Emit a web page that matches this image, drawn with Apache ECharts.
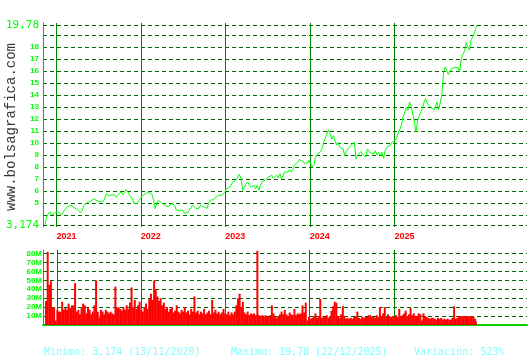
<!DOCTYPE html>
<html><head><meta charset="utf-8">
<script src="https://cdn.jsdelivr.net/npm/echarts@6/dist/echarts.min.js"></script>
<style>html,body{margin:0;padding:0;background:#fff}#c{width:530px;height:360px}</style>
</head><body><div id="c"></div>
<script>
// ---- weekly dates (Fridays) ----
const d2020 = ['2020-11-13','2020-11-20','2020-11-27','2020-12-04','2020-12-11','2020-12-18','2020-12-25'];
const d2021 = ['2021-01-01','2021-01-08','2021-01-15','2021-01-22','2021-01-29','2021-02-05','2021-02-12','2021-02-19','2021-02-26','2021-03-05','2021-03-12','2021-03-19','2021-03-26','2021-04-02','2021-04-09','2021-04-16','2021-04-23','2021-04-30','2021-05-07','2021-05-14','2021-05-21','2021-05-28','2021-06-04','2021-06-11','2021-06-18','2021-06-25','2021-07-02','2021-07-09','2021-07-16','2021-07-23','2021-07-30','2021-08-06','2021-08-13','2021-08-20','2021-08-27','2021-09-03','2021-09-10','2021-09-17','2021-09-24','2021-10-01','2021-10-08','2021-10-15','2021-10-22','2021-10-29','2021-11-05','2021-11-12','2021-11-19','2021-11-26','2021-12-03','2021-12-10','2021-12-17','2021-12-24','2021-12-31'];
const d2022 = ['2022-01-07','2022-01-14','2022-01-21','2022-01-28','2022-02-04','2022-02-11','2022-02-18','2022-02-25','2022-03-04','2022-03-11','2022-03-18','2022-03-25','2022-04-01','2022-04-08','2022-04-15','2022-04-22','2022-04-29','2022-05-06','2022-05-13','2022-05-20','2022-05-27','2022-06-03','2022-06-10','2022-06-17','2022-06-24','2022-07-01','2022-07-08','2022-07-15','2022-07-22','2022-07-29','2022-08-05','2022-08-12','2022-08-19','2022-08-26','2022-09-02','2022-09-09','2022-09-16','2022-09-23','2022-09-30','2022-10-07','2022-10-14','2022-10-21','2022-10-28','2022-11-04','2022-11-11','2022-11-18','2022-11-25','2022-12-02','2022-12-09','2022-12-16','2022-12-23','2022-12-30'];
const d2023 = ['2023-01-06','2023-01-13','2023-01-20','2023-01-27','2023-02-03','2023-02-10','2023-02-17','2023-02-24','2023-03-03','2023-03-10','2023-03-17','2023-03-24','2023-03-31','2023-04-07','2023-04-14','2023-04-21','2023-04-28','2023-05-05','2023-05-12','2023-05-19','2023-05-26','2023-06-02','2023-06-09','2023-06-16','2023-06-23','2023-06-30','2023-07-07','2023-07-14','2023-07-21','2023-07-28','2023-08-04','2023-08-11','2023-08-18','2023-08-25','2023-09-01','2023-09-08','2023-09-15','2023-09-22','2023-09-29','2023-10-06','2023-10-13','2023-10-20','2023-10-27','2023-11-03','2023-11-10','2023-11-17','2023-11-24','2023-12-01','2023-12-08','2023-12-15','2023-12-22','2023-12-29'];
const d2024 = ['2024-01-05','2024-01-12','2024-01-19','2024-01-26','2024-02-02','2024-02-09','2024-02-16','2024-02-23','2024-03-01','2024-03-08','2024-03-15','2024-03-22','2024-03-29','2024-04-05','2024-04-12','2024-04-19','2024-04-26','2024-05-03','2024-05-10','2024-05-17','2024-05-24','2024-05-31','2024-06-07','2024-06-14','2024-06-21','2024-06-28','2024-07-05','2024-07-12','2024-07-19','2024-07-26','2024-08-02','2024-08-09','2024-08-16','2024-08-23','2024-08-30','2024-09-06','2024-09-13','2024-09-20','2024-09-27','2024-10-04','2024-10-11','2024-10-18','2024-10-25','2024-11-01','2024-11-08','2024-11-15','2024-11-22','2024-11-29','2024-12-06','2024-12-13','2024-12-20','2024-12-27'];
const d2025 = ['2025-01-03','2025-01-10','2025-01-17','2025-01-24','2025-01-31','2025-02-07','2025-02-14','2025-02-21','2025-02-28','2025-03-07','2025-03-14','2025-03-21','2025-03-28','2025-04-04','2025-04-11','2025-04-18','2025-04-25','2025-05-02','2025-05-09','2025-05-16','2025-05-23','2025-05-30','2025-06-06','2025-06-13','2025-06-20','2025-06-27','2025-07-04','2025-07-11','2025-07-18','2025-07-25','2025-08-01','2025-08-08','2025-08-15','2025-08-22','2025-08-29','2025-09-05','2025-09-12','2025-09-19','2025-09-26','2025-10-03','2025-10-10','2025-10-17','2025-10-24','2025-10-31','2025-11-07','2025-11-14','2025-11-21','2025-11-28','2025-12-05','2025-12-12','2025-12-19','2025-12-22'];

// ---- closing prices (EUR) ----
const c2020 = [3.174,3.88,4.09,4.28,4.00,4.09,4.20];
const c2021 = [4.14,4.28,4.14,4.00,3.88,4.40,4.54,4.72,4.62,4.80,4.80,4.60,4.46,4.46,4.35,4.20,4.40,4.80,4.94,5.04,5.10,5.15,5.25,5.33,5.25,5.20,5.25,5.07,4.94,5.15,5.47,5.78,5.60,5.47,5.68,5.52,5.68,5.47,5.68,5.78,5.94,5.68,5.86,6.13,5.94,5.68,5.50,5.33,4.94,5.07,4.94,5.20,5.41];
const c2022 = [5.60,5.68,5.77,5.85,5.91,5.99,5.72,5.23,4.55,4.96,5.23,5.36,5.00,5.09,4.82,4.96,4.68,4.82,4.96,5.01,4.82,4.41,4.28,4.36,4.20,4.41,4.14,4.09,4.20,4.40,4.55,4.82,4.68,4.55,4.41,4.55,4.82,4.96,4.68,4.82,4.55,4.96,5.23,5.18,5.28,5.45,5.50,5.64,5.50,5.64,5.77,5.91];
const c2023 = [6.20,6.35,6.30,6.33,6.75,6.83,6.94,7.17,7.39,7.03,6.06,6.30,6.55,6.75,6.60,6.35,6.42,6.47,6.19,6.47,6.06,6.47,6.75,6.89,6.94,7.03,7.17,7.03,7.31,7.03,7.17,7.31,7.11,7.44,7.03,7.31,7.58,7.72,7.58,7.78,7.58,7.78,8.14,8.28,8.42,8.61,8.69,8.50,8.33,8.28,8.33,8.56];
const c2024 = [8.28,8.00,8.20,8.80,9.04,9.15,9.28,9.50,10.06,10.39,10.75,11.11,10.75,10.33,10.61,10.19,9.83,10.06,9.64,9.78,9.50,8.94,9.28,9.50,9.64,9.83,9.92,10.06,8.67,9.00,9.08,9.28,9.08,9.22,8.81,9.50,9.56,9.17,9.28,9.08,9.36,9.00,9.22,8.94,9.22,8.72,9.36,9.64,9.50,9.78,10.06,10.10];
const c2025 = [10.20,10.40,10.80,10.90,11.46,12.15,12.30,12.95,12.70,13.40,13.12,13.10,11.80,10.90,11.80,12.25,12.25,12.90,13.40,13.70,13.30,13.15,13.00,13.00,12.75,13.05,13.40,12.75,12.90,14.00,15.80,16.35,16.05,15.70,15.70,16.20,16.20,16.29,16.35,16.30,15.90,17.00,17.40,17.65,18.36,18.30,17.75,18.60,18.80,19.15,19.55,19.78];

// ---- volume (millions of shares) ----
const v2020 = [27,82,45,49,19,20,5];
const v2021 = [17,15,15,26,17,19,17,24,19,22,22,47,15,17,12,19,24,22,13,20,17,12,15,22,50,15,8,17,15,12,17,15,13,15,13,12,43,19,20,18,16,20,17,22,18,25,42,20,28,18,22,26,17];
const v2022 = [15,20,24,18,30,35,28,50,40,32,27,30,22,25,18,20,15,18,20,14,16,22,15,13,17,15,20,14,16,12,18,15,32,14,16,12,15,13,18,12,14,16,12,28,14,17,13,15,12,14,18,13];
const v2023 = [12,15,11,14,12,15,22,30,35,20,26,14,12,15,11,13,12,13,11,83,11,10,11,9,11,10,9,11,22,13,10,8,10,12,15,12,17,12,10,14,12,11,18,11,13,12,13,22,14,25,5,9];
const v2024 = [7,8,10,13,8,10,29,8,10,9,11,8,10,16,21,26,25,10,8,12,21,10,7,8,7,8,7,9,10,15,8,7,9,8,9,9,11,11,9,9,8,11,9,20,9,13,20,9,12,10,9,10];
const v2025 = [9,11,9,18,10,11,13,16,9,12,19,11,13,9,10,13,12,5,13,10,9,8,7,8,8,7,6,8,7,8,6,7,6,7,6,6,8,21,7,8,10,10,10,10,9,10,10,9,10,9,7,4];

// ---- axes / labels ----
const yearStarts = ['2021-01-01','2022-01-01','2023-01-01','2024-01-01','2025-01-01'];
const yearLabels = ['2021','2022','2023','2024','2025'];
const priceMin = 3.174, priceMax = 19.78;
const priceMinLabel = '3,174', priceMaxLabel = '19,78';
const footer = ['Minimo: 3,174 (13/11/2020)', 'Maximo: 19,78 (22/12/2025)', 'Variación: 523%'];
const watermark = 'www.bolsagrafica.com';

const dates = [].concat(d2020, d2021, d2022, d2023, d2024, d2025);
const closes = [].concat(c2020, c2021, c2022, c2023, c2024, c2025);
const volumes = [].concat(v2020, v2021, v2022, v2023, v2024, v2025);
const priceData = dates.map((d, i) => [d, closes[i]]);
const volData = dates.map((d, i) => [d, volumes[i]]);

const X_MIN = '2020-11-04', X_MAX = '2026-07-28';
const GRID_DASH = { color: '#006400', type: [4, 3], width: 1 };
const YEAR_LINE = { color: '#008400', type: 'solid', width: 1 };

const chart = echarts.init(document.getElementById('c'), null, { renderer: 'canvas' });
chart.setOption({
  animation: false,
  backgroundColor: '#ffffff',
  grid: [
    { left: 43, right: 3, top: 23, height: 204 },
    { left: 43, right: 3, top: 250, height: 75 }
  ],
  xAxis: [
    { type: 'time', gridIndex: 0, min: X_MIN, max: X_MAX, show: false },
    { type: 'time', gridIndex: 1, min: X_MIN, max: X_MAX,
      axisLine: { show: true, lineStyle: { color: '#00d000', width: 2 } },
      axisTick: { show: false }, axisLabel: { show: false }, splitLine: { show: false } }
  ],
  yAxis: [
    { type: 'value', gridIndex: 0, min: 3, max: 20, interval: 1,
      axisLine: { show: true, lineStyle: { color: '#00c000', width: 1 } },
      axisTick: { show: false },
      axisLabel: { margin: 4, color: '#00ff00', fontSize: 8, fontWeight: 'bold', fontFamily: 'Liberation Sans',
        formatter: v => (v >= 5 && v <= 18) ? String(v) : '' },
      splitLine: { show: true, showMinLine: false, showMaxLine: false, lineStyle: GRID_DASH } },
    { type: 'value', gridIndex: 1, min: 0, max: 84, interval: 10,
      axisLine: { show: true, lineStyle: { color: '#00c000', width: 1 } },
      axisTick: { show: false },
      axisLabel: { margin: 1, color: '#00ff00', fontSize: 8, fontWeight: 'bold', fontFamily: 'Liberation Sans',
        formatter: v => (v > 0 && v <= 80) ? v + 'M' : '' },
      splitLine: { show: true, showMinLine: false, showMaxLine: false, lineStyle: GRID_DASH } }
  ],
  series: [
    { type: 'line', xAxisIndex: 0, yAxisIndex: 0, data: priceData, showSymbol: false, symbol: 'none',
      lineStyle: { color: '#00ff00', width: 1 }, z: 3,
      markLine: {
        silent: true, symbol: ['none', 'none'], z: 1, animation: false,
        data: yearStarts.map((d, i) => ({
          xAxis: d, lineStyle: YEAR_LINE,
          label: { show: true, position: 'start', formatter: yearLabels[i], color: '#ff0000', fontSize: 9,
            fontWeight: 'bold', fontFamily: 'Liberation Sans', padding: [0, 0, 0, 20], distance: 5 }
        })).concat([
          { yAxis: priceMax, lineStyle: GRID_DASH,
            label: { show: true, position: 'start', formatter: priceMaxLabel, color: '#00ff00', fontSize: 11,
              fontFamily: 'DejaVu Sans Mono', distance: 4 } },
          { yAxis: priceMin, lineStyle: GRID_DASH,
            label: { show: true, position: 'start', formatter: priceMinLabel, color: '#00ff00', fontSize: 11,
              fontFamily: 'DejaVu Sans Mono', distance: 4 } }
        ])
      }
    },
    { type: 'bar', xAxisIndex: 1, yAxisIndex: 1, data: volData, barWidth: 2, z: 3,
      itemStyle: { color: '#ff0000' },
      markLine: {
        silent: true, symbol: ['none', 'none'], z: 1, animation: false,
        data: yearStarts.map(d => ({ xAxis: d, lineStyle: YEAR_LINE, label: { show: false } }))
      }
    }
  ],
  graphic: [
    { type: 'text', x: 11, y: 127, rotation: Math.PI / 2,
      style: { text: watermark, fill: '#3a3a3a', font: '14px "Liberation Mono"', align: 'center', verticalAlign: 'middle' } },
    { type: 'text', x: 44, y: 352,
      style: { text: footer[0], fill: '#80ffff', font: '10px "DejaVu Sans Mono"', align: 'left', verticalAlign: 'middle' } },
    { type: 'text', x: 231, y: 352,
      style: { text: footer[1], fill: '#80ffff', font: '10px "DejaVu Sans Mono"', align: 'left', verticalAlign: 'middle' } },
    { type: 'text', x: 414, y: 352,
      style: { text: footer[2], fill: '#80ffff', font: '10px "DejaVu Sans Mono"', align: 'left', verticalAlign: 'middle' } }
  ]
});
</script>
</body></html>
